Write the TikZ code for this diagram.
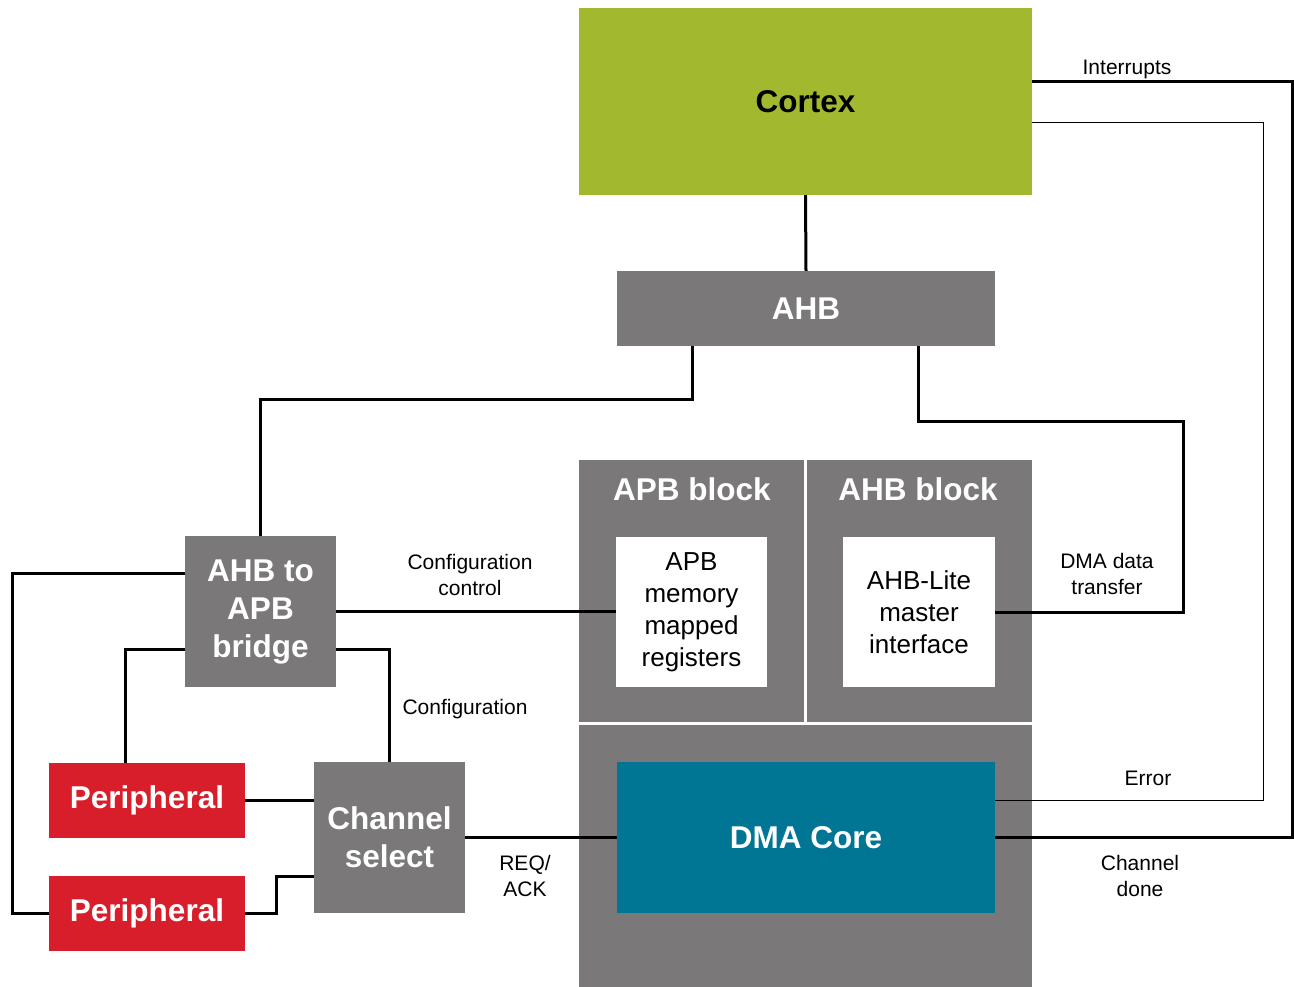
\documentclass[tikz,border=0pt]{standalone}
\usepackage{fontspec}
\setmainfont{Liberation Sans}
\definecolor{cgreen}{HTML}{A2B92F}
\definecolor{cgrey}{HTML}{7A7878}
\definecolor{cteal}{HTML}{017694}
\definecolor{cred}{HTML}{D91E2B}
\begin{document}
\begin{tikzpicture}[x=1pt,y=-1pt,
  box/.style={rectangle, inner sep=0pt, anchor=center, align=center},
  bigtxt/.style={font=\fontsize{31.5}{38}\selectfont\bfseries},
  midtxt/.style={font=\fontsize{26}{32}\selectfont},
  smalltxt/.style={font=\fontsize{21}{26}\selectfont, align=center, inner sep=0pt},
  greybox/.style={box, fill=cgrey, bigtxt, text=white},
  whitebox/.style={box, fill=white, midtxt, text=black},
  redbox/.style={box, fill=cred, bigtxt, text=white},
  thickln/.style={line width=3pt, black},
  thinln/.style={line width=1pt, black}
]
\useasboundingbox (0,0) rectangle (1294,987);

% boxes
\node[box, fill=cgreen, minimum width=453, minimum height=187, bigtxt, text=black] (cortex) at (805.5,101.5) {Cortex};
\node[greybox, minimum width=378, minimum height=75] (ahb) at (806,308.5) {AHB};
\node[box, fill=cgrey, minimum width=225, minimum height=262] (apbblk) at (691.5,591) {};
\node[box, fill=cgrey, minimum width=225, minimum height=262] (ahbblk) at (919.5,591) {};
\node[box, fill=cgrey, minimum width=453, minimum height=262] (dmablk) at (805.5,856) {};
\node[box, bigtxt, text=white] (apbtitle) at (692,489) {APB block};
\node[box, bigtxt, text=white] (ahbtitle) at (918,489) {AHB block};
\node[whitebox, minimum width=151, minimum height=150] (apbmem) at (691.5,612) {APB\\memory\\mapped\\registers};
\node[whitebox, minimum width=152, minimum height=150] (ahblite) at (919,612) {AHB-Lite\\master\\interface};
\node[box, fill=cteal, minimum width=378, minimum height=151, bigtxt, text=white] (dmacore) at (806,837.5) {DMA Core};
\node[greybox, minimum width=151, minimum height=151] (bridge) at (260.5,611.5) {AHB to\\APB\\bridge};
\node[greybox, minimum width=151, minimum height=151] (chsel) at (389.5,837.5) {Channel\\select};
\node[redbox, minimum width=196, minimum height=75] (per1) at (147,800.5) {Peripheral};
\node[redbox, minimum width=196, minimum height=75] (per2) at (147,913.5) {Peripheral};

% labels
\node[smalltxt] (lint) at (1127,69) {Interrupts};
\node[smalltxt] (lcfgc) at (470,575) {Configuration\\control};
\node[smalltxt] (lcfg) at (465,709) {Configuration};
\node[smalltxt] (lreq) at (525,876) {REQ/\\ACK};
\node[smalltxt] (ldma) at (1107,574) {DMA data\\transfer};
\node[smalltxt] (lerr) at (1148,778) {Error};
\node[smalltxt] (ldone) at (1140,876) {Channel\\done};

% helper coordinates
\coordinate (a692) at (692,399);
\coordinate (c918) at (918,421);
\coordinate (c1183) at (1183,421);
\coordinate (l1) at (12,573);
\coordinate (l2) at (125,649);
\coordinate (r2) at (389,649);
\coordinate (k) at (276,876);
\coordinate (i1) at (1292,82);
\coordinate (e1) at (1263,123);
\coordinate (e2) at (1263,800);

% connectors
\draw[thickln] (cortex.south) -- (ahb.north);
\draw[thickln] (ahb.south -| a692) -- (a692) -- (a692 -| bridge.north) -- (bridge.north);
\draw[thickln] (ahb.south -| c918) -- (c918) -- (c1183) -- (c1183 |- ahblite.east) -- (ahblite.east);
\draw[thickln] (bridge.east) -- (apbmem.west |- bridge.east);
\draw[thickln] (bridge.west |- l1) -- (l1) -- (l1 |- per2.west) -- (per2.west);
\draw[thickln] (bridge.west |- l2) -- (l2) -- (l2 |- per1.north);
\draw[thickln] (bridge.east |- r2) -- (r2) -- (r2 |- chsel.north);
\draw[thickln] (per1.east) -- (chsel.west |- per1.east);
\draw[thickln] (per2.east) -- (k |- per2.east) -- (k) -- (k -| chsel.west);
\draw[thickln] (chsel.east) -- (dmacore.west);
\draw[thickln] (cortex.east |- i1) -- (i1) -- (i1 |- dmacore.east) -- (dmacore.east);
\draw[thinln] (cortex.east |- e1) -- (e1) -- (e2) -- (e2 -| dmacore.east);
\end{tikzpicture}
\end{document}
